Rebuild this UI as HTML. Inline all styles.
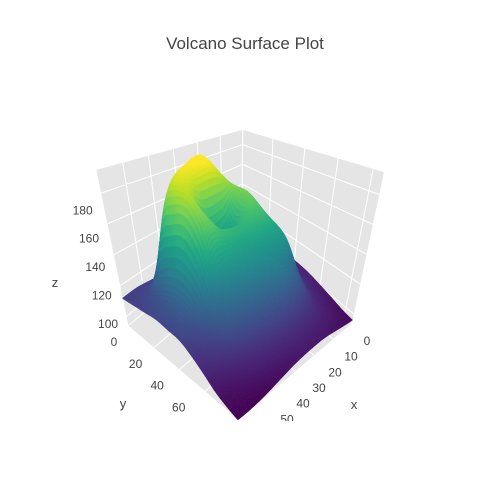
<!DOCTYPE html>
<html><head><meta charset="utf-8">
<style>
html,body{margin:0;padding:0;background:#fff;}
svg{display:block;font-family:"Liberation Sans","DejaVu Sans",sans-serif;}
</style></head>
<body>
<svg id="chart" width="487" height="488" viewBox="0 0 487 488">
<text x="245" y="49" text-anchor="middle" font-size="17" fill="#444">Volcano Surface Plot</text>
<defs><clipPath id="sceneclip"><rect x="0" y="70" width="487" height="351"/></clipPath></defs>
<g id="scene" clip-path="url(#sceneclip)"></g>
</svg>
<script>
// data grid: rows along y (0..86), columns along x (0..60)
const xGrid = [0,7.5,15,22.5,30,37.5,45,52.5,60];
const yGrid = [0,8.6,17.2,25.8,34.4,43,51.6,60.2,68.8,77.4,86];
const zRows = [
 [100,101,102,104,106,108,110,112,112],
 [101,103,106,112,126,130,126,116,113],
 [102,106,115,150,188,188,174,124,114],
 [103,108,125,170,190,190,184,130,115],
 [104,110,140,174,150,150,182,132,114],
 [104,110,148,166,160,162,168,128,113],
 [103,112,145,150,148,145,140,118,109],
 [101,108,126,135,132,128,122,110,104],
 [99,104,112,116,115,112,108,102,99],
 [97,101,104,105,104,102,100,97,96],
 [96,98,100,100,99,97,95,94,94]
];
const xTicks = [0,10,20,30,40,50,60];
const yTicks = [0,20,40,60,80];
const zTicks = [100,120,140,160,180];
const zMin = 94, zMax = 195;

const NS = "http://www.w3.org/2000/svg";
const scene = document.getElementById('scene');

function P(x,y,z){
  const fx = 242 - 1.9*x + 1.279*y;
  const fy = 229 + 1.617*x + 1.093*y;
  const a = 0.157 + 0.135*x/60 + 0.124*y/86;
  const r = 1 + a*(z-zMin)/(zMax-zMin);
  return [238 + (fx-238)*r, 860 + (fy-860)*r];
}
function mk(tag, attrs){ const e=document.createElementNS(NS,tag); for(const k in attrs) e.setAttribute(k,attrs[k]); return e; }
function poly(pts){ return pts.map(p=>p[0].toFixed(1)+','+p[1].toFixed(1)).join(' '); }

let el = mk('polygon',{points:poly([P(0,0,zMin),P(60,0,zMin),P(60,86,zMin),P(0,86,zMin)]),fill:'#e5e5e5'});
  scene.appendChild(el);
el = mk('polygon',{points:poly([P(0,0,zMin),P(60,0,zMin),P(60,0,zMax),P(0,0,zMax)]),fill:'#e5e5e5'});
  scene.appendChild(el);
el = mk('polygon',{points:poly([P(0,0,zMin),P(0,86,zMin),P(0,86,zMax),P(0,0,zMax)]),fill:'#e5e5e5'});
  scene.appendChild(el);

function line(a,b,name){
  const l = mk('line',{x1:a[0],y1:a[1],x2:b[0],y2:b[1],stroke:'#fff','stroke-width':1});
    scene.appendChild(l);
}
xTicks.forEach(v=>{ line(P(v,0,zMin),P(v,86,zMin),'x-gridline'); line(P(v,0,zMin),P(v,0,zMax),'x-gridline'); });
yTicks.forEach(v=>{ line(P(0,v,zMin),P(60,v,zMin),'y-gridline'); line(P(0,v,zMin),P(0,v,zMax),'y-gridline'); });
zTicks.forEach(v=>{ line(P(0,0,v),P(60,0,v),'z-gridline'); line(P(0,0,v),P(0,86,v),'z-gridline'); });

function cr(p0,p1,p2,p3,t){ return 0.5*((2*p1)+(-p0+p2)*t+(2*p0-5*p1+4*p2-p3)*t*t+(-p0+3*p1-3*p2+p3)*t*t*t); }
function Zat(i,j){ i=Math.max(0,Math.min(xGrid.length-1,i)); j=Math.max(0,Math.min(yGrid.length-1,j)); return zRows[j][i]; }
function sample(u,v){
  const i=Math.min(Math.floor(u),xGrid.length-2), j=Math.min(Math.floor(v),yGrid.length-2);
  const tu=u-i, tv=v-j, rows=[];
  for(let k=-1;k<=2;k++) rows.push(cr(Zat(i-1,j+k),Zat(i,j+k),Zat(i+1,j+k),Zat(i+2,j+k),tu));
  return cr(rows[0],rows[1],rows[2],rows[3],tv);
}
const stops=[[68,1,84],[72,36,117],[65,68,135],[53,95,141],[42,120,142],[33,145,140],[34,168,132],[68,191,112],[122,209,81],[189,223,38],[253,231,37]];
function viridis(t){ t=Math.max(0,Math.min(1,t))*10; const k=Math.min(9,Math.floor(t)), f=t-k;
  return stops[k].map((c,n)=>c+(stops[k+1][n]-c)*f); }
const SU=10, SV=10, NU=(xGrid.length-1)*SU, NV=(yGrid.length-1)*SV;
const G=[];
for(let b=0;b<=NV;b++){ G.push([]); for(let a=0;a<=NU;a++){
  const u=a/SU, v=b/SV; G[b].push([u*7.5, v*8.6, sample(u,v)]); } }
const quads=[];
for(let b=0;b<NV;b++) for(let a=0;a<NU;a++){
  const c=[G[b][a],G[b][a+1],G[b+1][a+1],G[b+1][a]];
  const zc=(c[0][2]+c[1][2]+c[2][2]+c[3][2])/4;
  const xc=(c[0][0]+c[2][0])/2, yc=(c[0][1]+c[2][1])/2;
  quads.push({c,zc,depth:1.617*xc+1.093*yc});
}
quads.sort((p,q)=>p.depth-q.depth);
const surf = mk('g',{});
 
scene.appendChild(surf);
quads.forEach(q=>{
  const col=viridis((q.zc-zMin)/(zMax-zMin)).map(c=>Math.round(c));
  const fill='rgb('+col.join(',')+')';
  const pg=mk('polygon',{points:poly(q.c.map(p=>P(p[0],p[1],p[2]))),fill:fill,stroke:fill,'stroke-width':0.4});
   
  surf.appendChild(pg);
});

function txt(x,y,s,anchor,size,name){
  const t=mk('text',{x:x,y:y,'text-anchor':anchor,'font-size':size,fill:'#444'}); t.textContent=s;
    scene.appendChild(t);
}
zTicks.forEach(v=>{ const p=P(60,0,v); txt(p[0]-8,p[1]+11+(v-100)*0.125,String(v),'end',12,'z-tick-label'); });
yTicks.forEach(v=>{ if(v>70) return; const p=P(60,v,zMin); txt(p[0]-14-0.2*v,p[1]+20,String(v),'middle',12,'y-tick-label'); });
xTicks.forEach(v=>{ if(v>55) return; const p=P(v,86,zMin); txt(p[0]+15+0.3*v,p[1]+22-0.05*v,String(v),'middle',12,'x-tick-label'); });
txt(55,287,'z','middle',13,'z-axis-title');
txt(123,408,'y','middle',13,'y-axis-title');
txt(354,409,'x','middle',13,'x-axis-title');
</script>
</body></html>
